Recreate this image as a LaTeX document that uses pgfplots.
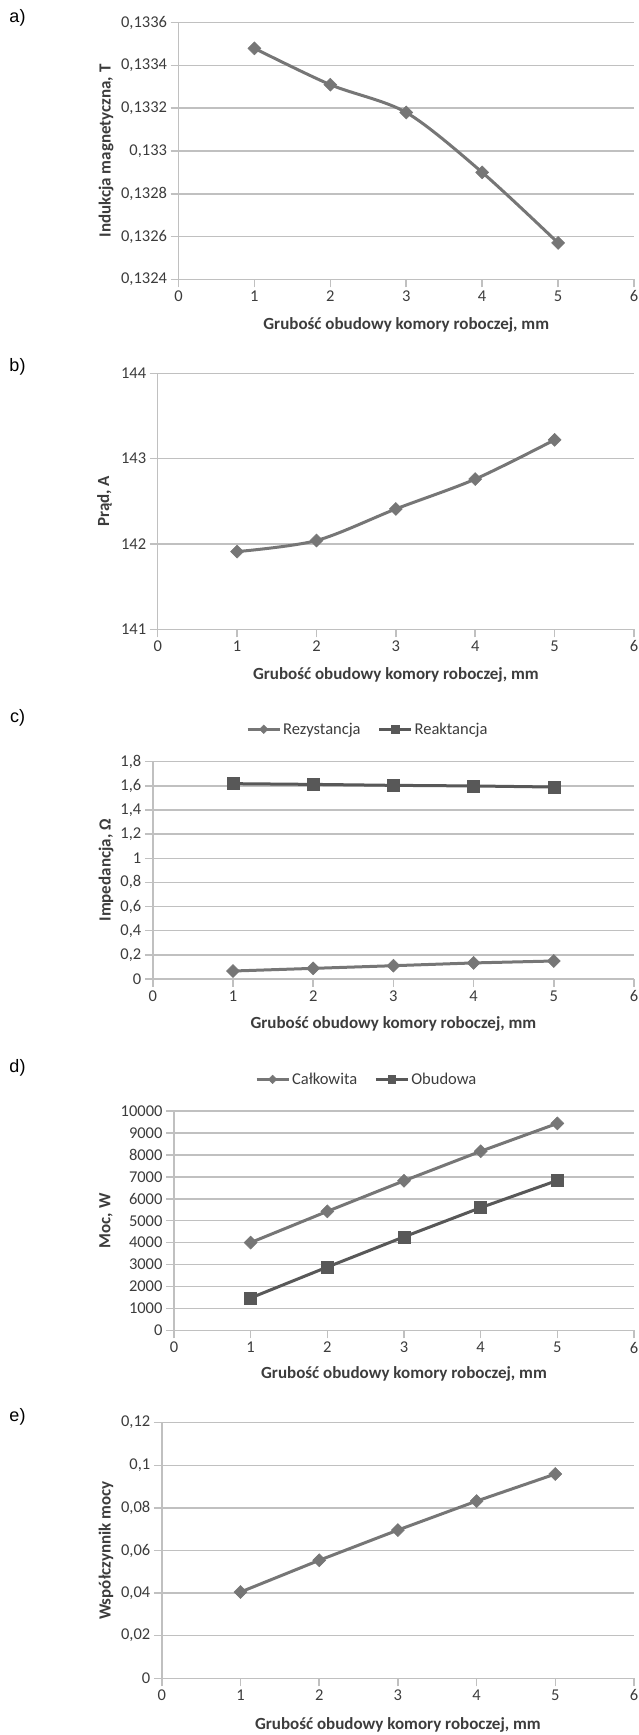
\documentclass[border=0pt]{standalone}
\usepackage{fontspec}
\setmainfont{Carlito}
\newfontfamily\arialf{Liberation Sans}
\usepackage{pgfplots}
\pgfplotsset{compat=1.18}
\definecolor{gridc}{RGB}{192,192,192}
\definecolor{textc}{RGB}{60,60,60}
\definecolor{serA}{RGB}{118,118,118}
\definecolor{serB}{RGB}{88,88,88}
\pgfplotsset{
  panel/.style={
    scale only axis,
    anchor=south west,
    xmin=0, xmax=6, xtick={0,1,2,3,4,5,6},
    axis x line*=bottom, axis y line*=left,
    axis line style={gridc, line width=1.5pt, -},
    ymajorgrids, grid style={gridc, line width=1.5pt},
    tick style={gridc, line width=1.5pt},
    tick align=outside,
    major tick length=8pt,
    /pgf/number format/assume math mode=true,
    tick label style={font=\fontsize{16.5}{19}\selectfont, text=textc},
    every axis x label/.style={at={(rel axis cs:0.5,0)}, anchor=center},
    every axis y label/.style={at={(rel axis cs:0,0.5)}, anchor=center},
    label style={font=\bfseries\fontsize{17}{20}\selectfont, text=textc},
    scaled y ticks=false,
    xlabel={Grubość obudowy komory roboczej, mm},
    clip=false,
    legend style={draw=none, fill=none, anchor=center, legend columns=2,
      font=\fontsize{16.5}{19}\selectfont, text=textc,
      /tikz/every even column/.append style={column sep=15pt}},
    legend image code/.code={\draw[mark repeat=2,mark phase=2,#1,every mark/.append style={scale=0.65}]
      plot coordinates {(0pt,0pt) (16pt,0pt) (32pt,0pt)};},
  },
  serdiam/.style={serA, line width=3pt, mark=square*, mark size=4.6pt,
    mark options={rotate=45, solid, line width=0.5pt, fill=serA, draw=serA}},
  sersq/.style={serB, line width=3pt, mark=square*, mark size=6pt,
    mark options={solid, line width=0.5pt, fill=serB, draw=serB}},
}
\begin{document}
\begin{tikzpicture}
\path[use as bounding box] (0pt,0pt) rectangle (639pt,1735pt);

% a)
\begin{axis}[panel, at={(178.5pt,1455.7pt)}, width=455.5pt, height=256.6pt,
  ymin=0.1324, ymax=0.1336,
  ytick={0.1324,0.1326,0.1328,0.133,0.1332,0.1334,0.1336},
  yticklabels={{0,1324},{0,1326},{0,1328},{0,133},{0,1332},{0,1334},{0,1336}},
  ylabel={Indukcja magnetyczna, T},
  xlabel style={yshift=-45.7pt}, ylabel style={xshift=-72.5pt, rotate=90}]
\addplot[serdiam, smooth] coordinates {(1,0.13348) (2,0.13331) (3,0.13318) (4,0.13290) (5,0.13257)};
\end{axis}

% b)
\begin{axis}[panel, at={(157.7pt,1105.7pt)}, width=476.3pt, height=256pt,
  ymin=141, ymax=144, ytick={141,142,143,144},
  yticklabels={141,142,143,144},
  ylabel={Prąd, A},
  xlabel style={yshift=-45.7pt}, ylabel style={xshift=-53.2pt, rotate=90}]
\addplot[serdiam, smooth] coordinates {(1,141.91) (2,142.04) (3,142.41) (4,142.76) (5,143.22)};
\end{axis}

% c)
\begin{axis}[panel, at={(152.8pt,756pt)}, width=481.2pt, height=217.3pt,
  ymin=0, ymax=1.8, ytick={0,0.2,0.4,0.6,0.8,1,1.2,1.4,1.6,1.8},
  yticklabels={0,{0,2},{0,4},{0,6},{0,8},1,{1,2},{1,4},{1,6},{1,8}},
  ylabel={Impedancja, Ω},
  legend style={at={(rel axis cs:0.447,1.149)}},
  xlabel style={yshift=-45.3pt}, ylabel style={xshift=-46.8pt, rotate=90}]
\addplot[serdiam] coordinates {(1,0.066) (2,0.088) (3,0.110) (4,0.133) (5,0.149)};
\addlegendentry{Rezystancja}
\addplot[sersq] coordinates {(1,1.618) (2,1.612) (3,1.604) (4,1.599) (5,1.590)};
\addlegendentry{Reaktancja}
\end{axis}

% d)
\begin{axis}[panel, at={(174pt,404.5pt)}, width=460pt, height=219.5pt,
  ymin=0, ymax=10000, ytick={0,1000,2000,3000,4000,5000,6000,7000,8000,9000,10000},
  yticklabels={0,1000,2000,3000,4000,5000,6000,7000,8000,9000,10000},
  ylabel={Moc, W},
  legend style={at={(rel axis cs:0.419,1.144)}},
  xlabel style={yshift=-43.8pt}, ylabel style={xshift=-68pt, rotate=90}]
\addplot[serdiam] coordinates {(1,4006) (2,5428) (3,6820) (4,8165) (5,9434)};
\addlegendentry{Całkowita}
\addplot[sersq] coordinates {(1,1483) (2,2890) (3,4266) (4,5596) (5,6835)};
\addlegendentry{Obudowa}
\end{axis}

% e)
\begin{axis}[panel, at={(161.8pt,56.7pt)}, width=472.2pt, height=255.6pt,
  ymin=0, ymax=0.12, ytick={0,0.02,0.04,0.06,0.08,0.1,0.12},
  yticklabels={0,{0,02},{0,04},{0,06},{0,08},{0,1},{0,12}},
  ylabel={Współczynnik mocy},
  xlabel style={yshift=-46.7pt}, ylabel style={xshift=-55.8pt, rotate=90}]
\addplot[serdiam] coordinates {(1,0.0405) (2,0.0554) (3,0.0696) (4,0.0832) (5,0.0959)};
\end{axis}

\node[font=\arialf\fontsize{18}{21}\selectfont, anchor=center] at (17.5pt,1717pt) {a)};
\node[font=\arialf\fontsize{18}{21}\selectfont, anchor=center] at (17.5pt,1368.3pt) {b)};
\node[font=\arialf\fontsize{18}{21}\selectfont, anchor=center] at (17.5pt,1017.5pt) {c)};
\node[font=\arialf\fontsize{18}{21}\selectfont, anchor=center] at (17.5pt,667.5pt) {d)};
\node[font=\arialf\fontsize{18}{21}\selectfont, anchor=center] at (17.5pt,318.3pt) {e)};
\end{tikzpicture}
\end{document}
